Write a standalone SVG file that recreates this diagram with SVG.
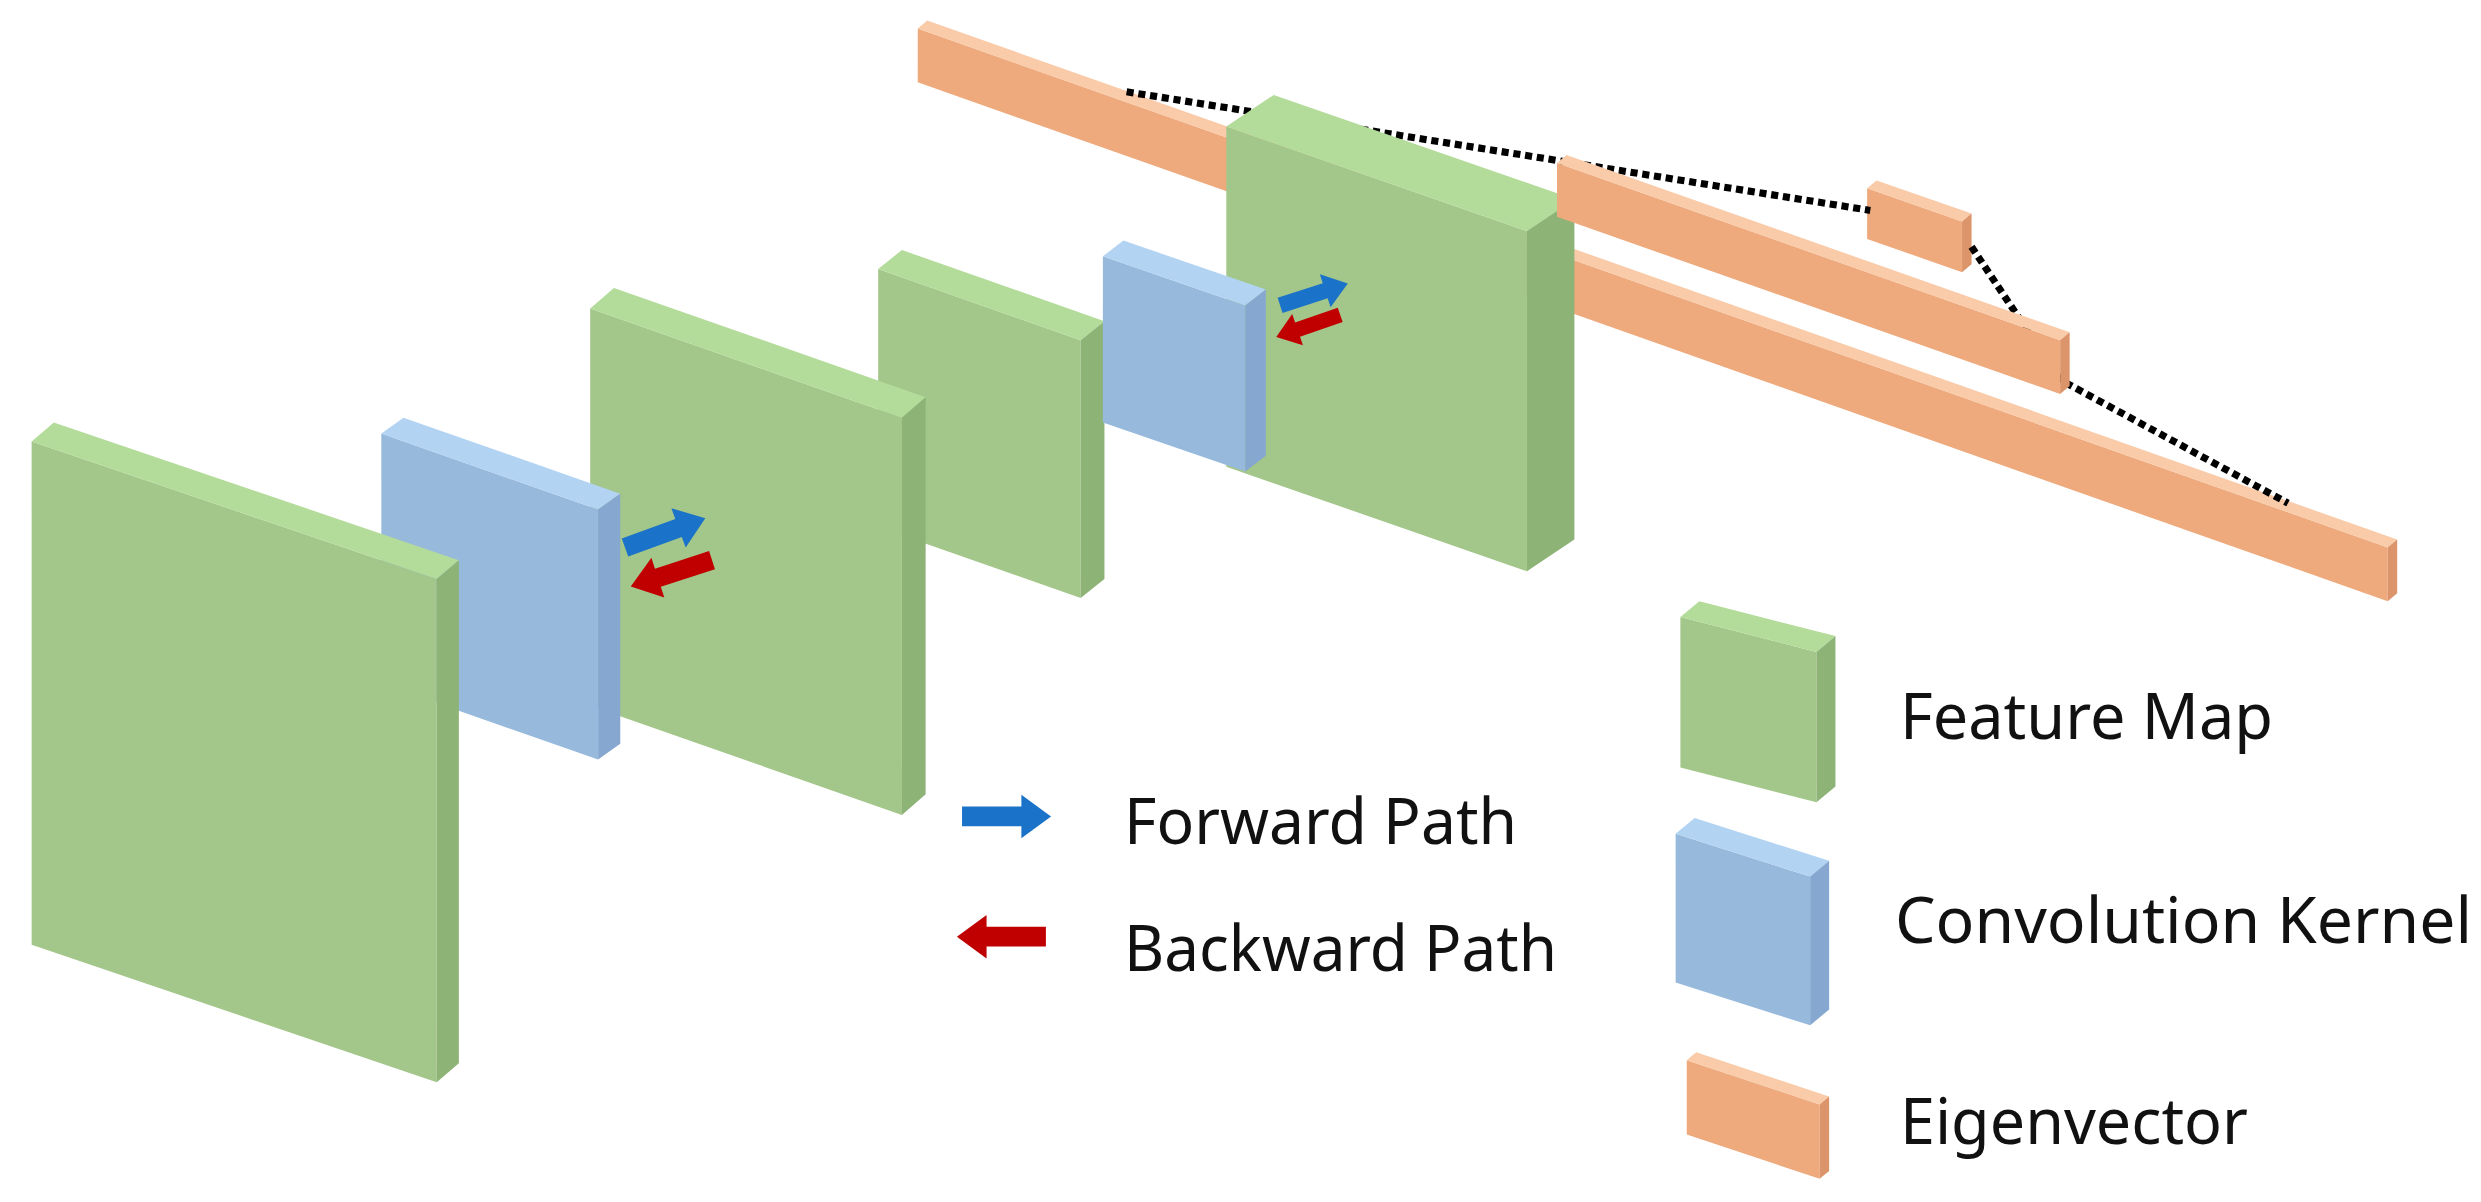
<svg xmlns="http://www.w3.org/2000/svg" width="2481" height="1202" viewBox="0 0 2481 1202">
<style>
.gf{fill:#a3c68a}.gt{fill:#b3db99}.gs{fill:#8db377}
.bf{fill:#97b9dc}.bt{fill:#b3d3f3}.bs{fill:#86a8d0}
.of{fill:#eea97c}.ot{fill:#f9cba9}.os{fill:#dc946a}
.fw{fill:#1a73c9}.bw{fill:#c00000}
.dot{fill:none;stroke:#000;stroke-width:4.5;stroke-dasharray:4.5 3}
text{font-family:"Noto Sans","Open Sans",sans-serif;font-size:64px;fill:#111}
</style>
<defs>
<path id="arr" d="M0,-5 L30,-5 L30,-11 L45,0 L30,11 L30,5 L0,5 Z"/>
</defs>
<rect width="2481" height="1202" fill="#fff"/>
<g transform="scale(1.5823)">
<g id="eig3">
<polygon class="of" points="580,18 1509,346 1509,380 580,52"/>
<polygon class="ot" points="580,18 1509,346 1515,341 586,13"/>
<polygon class="os" points="1509,346 1515,341 1515,375 1509,380"/>
</g>
<g id="eig1">
<polygon class="of" points="1180,119 1240,140 1240,172 1180,151"/>
<polygon class="ot" points="1180,119 1240,140 1246,135 1186,114"/>
<polygon class="os" points="1240,140 1246,135 1246,167 1240,172"/>
</g>
<g id="connectors">
<polyline class="dot" points="712,58 1182,133"/>
<polyline class="dot" points="1246,156 1302,240 1446,318"/>
</g>
<g id="fm4">
<polygon class="gf" points="775,80 965,146 965,361 775,295"/>
<polygon class="gt" points="775,80 965,146 995,126 805,60"/>
<polygon class="gs" points="965,146 995,126 995,341 965,361"/>
</g>
<g id="eig2">
<polygon class="of" points="984,103 1302,215 1302,249 984,137"/>
<polygon class="ot" points="984,103 1302,215 1308,210 990,98"/>
<polygon class="os" points="1302,215 1308,210 1308,244 1302,249"/>
</g>
<g id="fm3">
<polygon class="gf" points="555,170 683,215 683,378 555,333"/>
<polygon class="gt" points="555,170 683,215 698,203 570,158"/>
<polygon class="gs" points="683,215 698,203 698,366 683,378"/>
</g>
<g id="k2">
<polygon class="bf" points="697,162 787,193 787,298 697,267"/>
<polygon class="bt" points="697,162 787,193 800,183 710,152"/>
<polygon class="bs" points="787,193 800,183 800,288 787,298"/>
</g>
<g id="fm2">
<polygon class="gf" points="373,195 570,264 570,515 373,446"/>
<polygon class="gt" points="373,195 570,264 585,251 388,182"/>
<polygon class="gs" points="570,264 585,251 585,502 570,515"/>
</g>
<g id="k1">
<polygon class="bf" points="241,274 378,322 378,480 241,432"/>
<polygon class="bt" points="241,274 378,322 392,312 255,264"/>
<polygon class="bs" points="378,322 392,312 392,470 378,480"/>
</g>
<g id="fm1">
<polygon class="gf" points="20,279 276,366 276,684 20,597"/>
<polygon class="gt" points="20,279 276,366 290,354 34,267"/>
<polygon class="gs" points="276,366 290,354 290,672 276,684"/>
</g>
<g id="arrows">
<use href="#arr" class="fw" transform="translate(395,346) rotate(-20) scale(1.2)"/>
<use href="#arr" class="bw" transform="translate(450,354) rotate(162) scale(1.2)"/>
<use href="#arr" class="fw" transform="translate(809,193) rotate(-18) scale(1.0)"/>
<use href="#arr" class="bw" transform="translate(847,199) rotate(161) scale(0.95)"/>
</g>
<g id="legend-icons">
<use href="#arr" class="fw" transform="translate(608,516) scale(1.25)"/>
<use href="#arr" class="bw" transform="translate(661,592) rotate(180) scale(1.25)"/>
<polygon class="gf" points="1062,390 1148,412 1148,507 1062,485"/>
<polygon class="gt" points="1062,390 1148,412 1160,402 1074,380"/>
<polygon class="gs" points="1148,412 1160,402 1160,497 1148,507"/>
<polygon class="bf" points="1059,527 1144,554 1144,648 1059,621"/>
<polygon class="bt" points="1059,527 1144,554 1156,544 1071,517"/>
<polygon class="bs" points="1144,554 1156,544 1156,638 1144,648"/>
<polygon class="of" points="1066,670 1150,698 1150,745 1066,717"/>
<polygon class="ot" points="1066,670 1150,698 1156,693 1072,665"/>
<polygon class="os" points="1150,698 1156,693 1156,740 1150,745"/>
</g>
</g>
<g id="labels">
<text x="1124" y="844" textLength="393" lengthAdjust="spacingAndGlyphs">Forward Path</text>
<text x="1124" y="971" textLength="433" lengthAdjust="spacingAndGlyphs">Backward Path</text>
<text x="1900" y="739" textLength="373" lengthAdjust="spacingAndGlyphs">Feature Map</text>
<text x="1895" y="943" textLength="577" lengthAdjust="spacingAndGlyphs">Convolution Kernel</text>
<text x="1900" y="1144" textLength="348" lengthAdjust="spacingAndGlyphs">Eigenvector</text>
</g>
</svg>
